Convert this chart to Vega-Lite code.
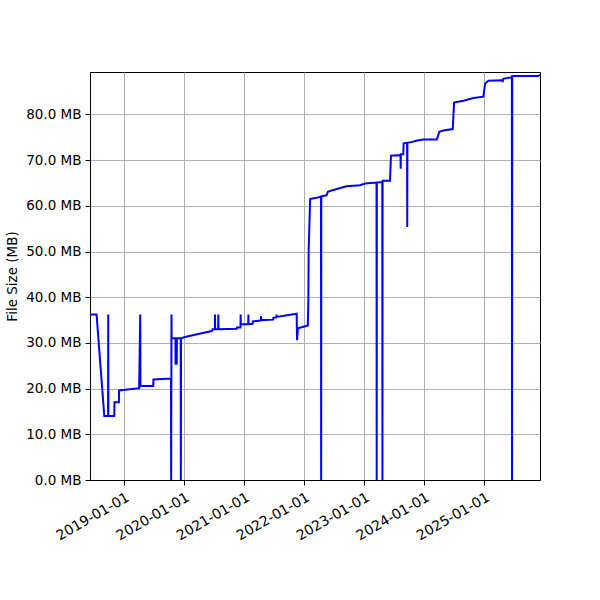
{
  "$schema": "https://vega.github.io/schema/vega-lite/v6.json",
  "description": "File size over time",
  "autosize": {"type": "none"},
  "padding": {"left": 90, "top": 72, "right": 60, "bottom": 120},
  "width": 450,
  "height": 408,
  "data": {
    "values": [
      {"date": "2018-06-06", "size": 36.2},
      {"date": "2018-07-16", "size": 36.2},
      {"date": "2018-09-01", "size": 14.0},
      {"date": "2018-09-24", "size": 14.0},
      {"date": "2018-09-25", "size": 36.2},
      {"date": "2018-09-26", "size": 14.0},
      {"date": "2018-11-01", "size": 14.0},
      {"date": "2018-11-02", "size": 17.0},
      {"date": "2018-11-29", "size": 17.0},
      {"date": "2018-11-30", "size": 19.6},
      {"date": "2019-04-01", "size": 20.1},
      {"date": "2019-04-08", "size": 36.2},
      {"date": "2019-04-09", "size": 20.6},
      {"date": "2019-06-26", "size": 20.6},
      {"date": "2019-06-27", "size": 22.0},
      {"date": "2019-10-12", "size": 22.2},
      {"date": "2019-10-13", "size": 0},
      {"date": "2019-10-15", "size": 36.2},
      {"date": "2019-10-16", "size": 31.0},
      {"date": "2019-11-08", "size": 31.0},
      {"date": "2019-11-09", "size": 25.2},
      {"date": "2019-11-10", "size": 31.0},
      {"date": "2019-11-15", "size": 31.0},
      {"date": "2019-11-16", "size": 25.2},
      {"date": "2019-11-17", "size": 31.0},
      {"date": "2019-12-10", "size": 31.0},
      {"date": "2019-12-11", "size": 0},
      {"date": "2019-12-12", "size": 31.0},
      {"date": "2020-01-05", "size": 31.3},
      {"date": "2020-03-06", "size": 31.8},
      {"date": "2020-06-16", "size": 32.6},
      {"date": "2020-06-22", "size": 33.0},
      {"date": "2020-07-05", "size": 33.0},
      {"date": "2020-07-06", "size": 36.2},
      {"date": "2020-07-07", "size": 33.0},
      {"date": "2020-07-25", "size": 33.0},
      {"date": "2020-07-26", "size": 36.2},
      {"date": "2020-07-27", "size": 33.0},
      {"date": "2020-11-15", "size": 33.1},
      {"date": "2020-11-16", "size": 33.4},
      {"date": "2020-12-08", "size": 33.4},
      {"date": "2020-12-09", "size": 36.2},
      {"date": "2020-12-10", "size": 34.1},
      {"date": "2021-01-24", "size": 34.1},
      {"date": "2021-01-25", "size": 36.2},
      {"date": "2021-01-26", "size": 34.1},
      {"date": "2021-02-20", "size": 34.2},
      {"date": "2021-02-21", "size": 34.7},
      {"date": "2021-04-11", "size": 34.9},
      {"date": "2021-04-12", "size": 35.9},
      {"date": "2021-04-13", "size": 35.0},
      {"date": "2021-06-25", "size": 35.1},
      {"date": "2021-06-26", "size": 35.5},
      {"date": "2021-07-15", "size": 35.6},
      {"date": "2021-07-16", "size": 36.2},
      {"date": "2021-07-17", "size": 35.7},
      {"date": "2021-11-15", "size": 36.4},
      {"date": "2021-11-17", "size": 30.6},
      {"date": "2021-11-23", "size": 33.2},
      {"date": "2022-01-22", "size": 33.8},
      {"date": "2022-01-25", "size": 39.0},
      {"date": "2022-01-27", "size": 50.3},
      {"date": "2022-02-05", "size": 61.5},
      {"date": "2022-03-06", "size": 61.7},
      {"date": "2022-04-12", "size": 62.0},
      {"date": "2022-04-13", "size": 0},
      {"date": "2022-04-14", "size": 62.1},
      {"date": "2022-05-16", "size": 62.3},
      {"date": "2022-05-24", "size": 63.1},
      {"date": "2022-06-10", "size": 63.3},
      {"date": "2022-09-15", "size": 64.3},
      {"date": "2022-12-05", "size": 64.5},
      {"date": "2023-01-05", "size": 64.9},
      {"date": "2023-03-16", "size": 65.1},
      {"date": "2023-03-17", "size": 0},
      {"date": "2023-03-18", "size": 65.1},
      {"date": "2023-04-20", "size": 65.2},
      {"date": "2023-04-21", "size": 0},
      {"date": "2023-04-22", "size": 65.5},
      {"date": "2023-06-06", "size": 65.5},
      {"date": "2023-06-12", "size": 71.0},
      {"date": "2023-08-09", "size": 71.1},
      {"date": "2023-08-10", "size": 68.1},
      {"date": "2023-08-11", "size": 71.3},
      {"date": "2023-08-26", "size": 71.3},
      {"date": "2023-08-28", "size": 73.7},
      {"date": "2023-09-18", "size": 73.8},
      {"date": "2023-09-19", "size": 55.4},
      {"date": "2023-09-20", "size": 73.8},
      {"date": "2023-10-20", "size": 74.0},
      {"date": "2023-11-05", "size": 74.2},
      {"date": "2023-12-25", "size": 74.5},
      {"date": "2024-03-17", "size": 74.5},
      {"date": "2024-04-01", "size": 76.2},
      {"date": "2024-04-26", "size": 76.5},
      {"date": "2024-06-22", "size": 76.8},
      {"date": "2024-06-30", "size": 82.6},
      {"date": "2024-08-26", "size": 83.0},
      {"date": "2024-10-26", "size": 83.6},
      {"date": "2024-12-25", "size": 83.9},
      {"date": "2025-01-05", "size": 86.8},
      {"date": "2025-01-25", "size": 87.4},
      {"date": "2025-04-16", "size": 87.5},
      {"date": "2025-04-22", "size": 87.3},
      {"date": "2025-04-26", "size": 87.8},
      {"date": "2025-06-06", "size": 88.1},
      {"date": "2025-06-17", "size": 88.1},
      {"date": "2025-06-18", "size": 0},
      {"date": "2025-06-19", "size": 88.4},
      {"date": "2025-11-25", "size": 88.4},
      {"date": "2025-12-05", "size": 88.7}
    ]
  },
  "mark": {"type": "line", "color": "#0000ff", "strokeWidth": 2, "clip": true},
  "encoding": {
    "x": {
      "field": "date",
      "type": "temporal",
      "scale": {"domain": ["2018-06-06", "2025-12-05"], "nice": false},
      "axis": {
        "title": null,
        "format": "%Y-%m-%d",
        "values": ["2019-01-01", "2020-01-01", "2021-01-01", "2022-01-01", "2023-01-01", "2024-01-01", "2025-01-01"],
        "labelAngle": -30,
        "labelAlign": "right",
        "labelBaseline": "top",
        "labelFontSize": 14,
        "labelPadding": 5
      }
    },
    "y": {
      "field": "size",
      "type": "quantitative",
      "title": "File Size (MB)",
      "scale": {"domain": [0, 89.3], "nice": false, "zero": true},
      "axis": {
        "values": [0, 10, 20, 30, 40, 50, 60, 70, 80],
        "labelExpr": "format(datum.value, '.1f') + ' MB'",
        "labelPadding": 4,
        "titlePadding": 6
      }
    }
  },
  "config": {
    "font": "DejaVu Sans",
    "view": {"stroke": "#000000", "strokeWidth": 1},
    "axis": {
      "labelFont": "DejaVu Sans",
      "titleFont": "DejaVu Sans",
      "labelFontSize": 13.5,
      "titleFontSize": 13.5,
      "titleFontWeight": "normal",
      "labelColor": "#000000",
      "titleColor": "#000000",
      "domainColor": "#000000",
      "tickColor": "#000000",
      "tickSize": 5,
      "gridColor": "#b0b0b0",
      "gridWidth": 1,
      "gridOpacity": 1,
      "labelOverlap": false,
      "labelFlush": false
    }
  }
}
